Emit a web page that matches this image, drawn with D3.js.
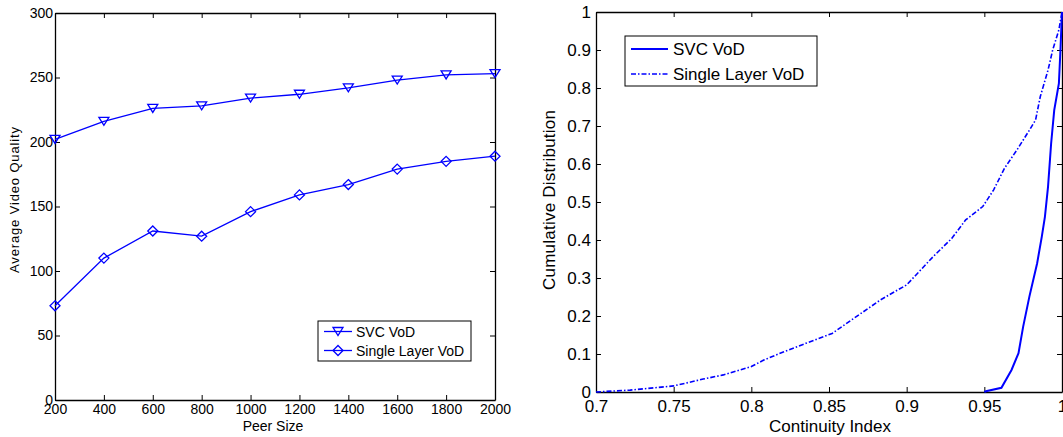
<!DOCTYPE html>
<html>
<head>
<meta charset="utf-8">
<script src="https://cdn.jsdelivr.net/npm/d3@7"></script>
<style>
  body { margin: 0; background: #fff; }
  svg { display: block; font-family: "Liberation Sans", Arial, sans-serif; }
  .axis path, .axis line { stroke: #000; }
  .axis text { fill: #000; }
</style>
</head>
<body>
<div id="main-frame"></div>
<script>
// Left chart: average video quality vs peer size
const peerSizes = [200, 400, 600, 800, 1000, 1200, 1400, 1600, 1800, 2000];
const svcQuality = [202, 216, 226, 228, 234, 237, 242, 248, 252, 253];
const singleQuality = [73, 110, 131, 127, 146, 159, 167, 179, 185, 189];
const qualityTicks = [0, 50, 100, 150, 200, 250, 300];

// Right chart: CDF of continuity index
const svcCdfIndex = [0.950, 0.951, 0.961, 0.9675, 0.972, 0.975, 0.979, 0.984, 0.987, 0.989, 0.991, 0.993, 0.995, 0.998, 0.999, 1.0];
const svcCdfProb = [0, 0.002, 0.011, 0.058, 0.102, 0.172, 0.251, 0.339, 0.409, 0.461, 0.540, 0.654, 0.742, 0.812, 0.900, 1.0];
const singleCdfIndex = [0.700, 0.722, 0.750, 0.769, 0.782, 0.800, 0.808, 0.821, 0.835, 0.852, 0.865, 0.883, 0.900, 0.906, 0.917, 0.929, 0.938, 0.949, 0.956, 0.963, 0.971, 0.979, 0.983, 0.986, 0.991, 0.994, 0.998, 1.0];
const singleCdfProb = [0, 0.005, 0.016, 0.034, 0.045, 0.067, 0.084, 0.106, 0.128, 0.154, 0.191, 0.242, 0.282, 0.308, 0.356, 0.404, 0.453, 0.488, 0.532, 0.589, 0.637, 0.689, 0.716, 0.777, 0.847, 0.900, 0.953, 1.0];
const indexTicks = [0.7, 0.75, 0.8, 0.85, 0.9, 0.95, 1];
const probTicks = [0, 0.1, 0.2, 0.3, 0.4, 0.5, 0.6, 0.7, 0.8, 0.9, 1];

const blue = "#0000ff";

const svg = d3
  .select("#main-frame")
  .append("svg")
  .attr("width", 1063)
  .attr("height", 437);

// draw a boxed matlab-style frame with inward ticks
function frame(g, x, y, xTicks, yTicks, fontSize, padX, padY, fmtX, fmtY) {
  const [x0, x1] = x.range();
  const [y0, y1] = y.range();
  g.append("g")
    .attr("class", "axis")
    .attr("transform", `translate(0, ${y0})`)
    .call(d3.axisBottom(x).tickValues(xTicks).tickSizeInner(-5).tickSizeOuter(0).tickPadding(padX).tickFormat(fmtX))
    .style("font-size", fontSize + "px");
  g.append("g")
    .attr("class", "axis")
    .attr("transform", `translate(0, ${y1})`)
    .call(d3.axisTop(x).tickValues(xTicks).tickSizeInner(-5).tickSizeOuter(0).tickFormat(""));
  g.append("g")
    .attr("class", "axis")
    .attr("transform", `translate(${x0}, 0)`)
    .call(d3.axisLeft(y).tickValues(yTicks).tickSizeInner(-5).tickSizeOuter(0).tickPadding(padY).tickFormat(fmtY))
    .style("font-size", fontSize + "px");
  g.append("g")
    .attr("class", "axis")
    .attr("transform", `translate(${x1}, 0)`)
    .call(d3.axisRight(y).tickValues(yTicks).tickSizeInner(-5).tickSizeOuter(0).tickFormat(""));
  g.selectAll(".axis path").attr("stroke-width", 1.3);
  g.selectAll(".axis text").attr("font-family", null);
}

// ---------- left chart ----------
const xLeft = d3.scaleLinear().domain([200, 2000]).range([55, 495]);
const yLeft = d3.scaleLinear().domain([0, 300]).range([400, 13]);
const left = svg.append("g");
frame(left, xLeft, yLeft, peerSizes, qualityTicks, 14, 4, 2, d3.format("d"), d3.format("d"));

const leftLine = d3.line().x((d) => xLeft(d[0])).y((d) => yLeft(d[1]));
const triangle = "M-5,-4L5,-4L0,4Z";
const diamond = "M0,-5L5,0L0,5L-5,0Z";

[[svcQuality, triangle], [singleQuality, diamond]].forEach(([vals, shape]) => {
  const pts = peerSizes.map((p, i) => [p, vals[i]]);
  left.append("path")
    .attr("d", leftLine(pts))
    .attr("fill", "none")
    .attr("stroke", blue)
    .attr("stroke-width", 1.3);
  left.selectAll(null)
    .data(pts)
    .enter()
    .append("path")
    .attr("d", shape)
    .attr("transform", (d) => `translate(${xLeft(d[0])}, ${yLeft(d[1])})`)
    .attr("fill", "none")
    .attr("stroke", blue)
    .attr("stroke-width", 1.3);
});

left.append("text")
  .attr("x", 273).attr("y", 431)
  .attr("text-anchor", "middle")
  .style("font-size", "14px")
  .text("Peer Size");
left.append("text")
  .attr("transform", "translate(19, 200) rotate(-90)")
  .attr("text-anchor", "middle")
  .attr("textLength", 146)
  .style("font-size", "13px")
  .text("Average Video Quality");

// legend
const legL = left.append("g");
legL.append("rect")
  .attr("x", 318).attr("y", 321).attr("width", 153).attr("height", 40)
  .attr("fill", "#fff").attr("stroke", "#000").attr("stroke-width", 1);
[["SVC VoD", triangle, 331.5], ["Single Layer VoD", diamond, 350.5]].forEach(([label, shape, ly]) => {
  legL.append("line")
    .attr("x1", 324).attr("x2", 352).attr("y1", ly).attr("y2", ly)
    .attr("stroke", blue).attr("stroke-width", 1.3);
  legL.append("path")
    .attr("d", shape)
    .attr("transform", `translate(338, ${ly})`)
    .attr("fill", "none").attr("stroke", blue).attr("stroke-width", 1.3);
  legL.append("text")
    .attr("x", 356).attr("y", ly + 5)
    .style("font-size", "14px")
    .text(label);
});

// ---------- right chart ----------
const xRight = d3.scaleLinear().domain([0.7, 1]).range([596, 1062]);
const yRight = d3.scaleLinear().domain([0, 1]).range([392, 12]);
const right = svg.append("g");
frame(right, xRight, yRight, indexTicks, probTicks, 17, 8, 5, (d) => String(d), (d) => String(d));

const cdfLine = d3.line().x((d) => xRight(d[0])).y((d) => yRight(d[1]));
right.append("path")
  .attr("d", cdfLine(singleCdfIndex.map((v, i) => [v, singleCdfProb[i]])))
  .attr("fill", "none")
  .attr("stroke", blue)
  .attr("stroke-width", 1.6)
  .attr("stroke-dasharray", "5,2,1.5,2");
right.append("path")
  .attr("d", cdfLine(svcCdfIndex.map((v, i) => [v, svcCdfProb[i]])))
  .attr("fill", "none")
  .attr("stroke", blue)
  .attr("stroke-width", 2);

right.append("text")
  .attr("x", 830).attr("y", 432)
  .attr("text-anchor", "middle")
  .attr("textLength", 122)
  .style("font-size", "17px")
  .text("Continuity Index");
right.append("text")
  .attr("transform", "translate(555, 200) rotate(-90)")
  .attr("text-anchor", "middle")
  .attr("textLength", 180)
  .style("font-size", "17px")
  .text("Cumulative Distribution");

const legR = right.append("g");
legR.append("rect")
  .attr("x", 625).attr("y", 36).attr("width", 192).attr("height", 50)
  .attr("fill", "#fff").attr("stroke", "#000").attr("stroke-width", 1);
[["SVC VoD", null, 49, 2], ["Single Layer VoD", "5,2,1.5,2", 74, 1.6]].forEach(([label, dash, ly, sw]) => {
  legR.append("line")
    .attr("x1", 631).attr("x2", 668).attr("y1", ly).attr("y2", ly)
    .attr("stroke", blue).attr("stroke-width", sw)
    .attr("stroke-dasharray", dash);
  legR.append("text")
    .attr("x", 673).attr("y", ly + 6)
    .style("font-size", "17px")
    .text(label);
});
</script>
</body>
</html>
